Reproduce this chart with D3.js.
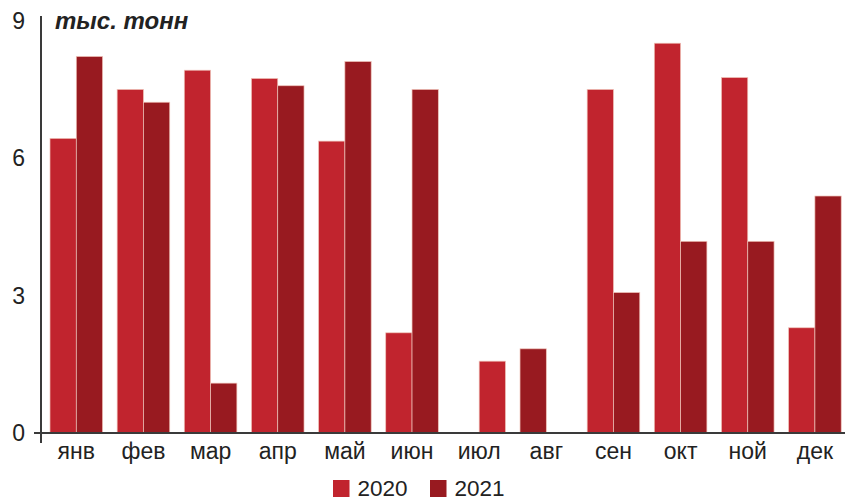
<!DOCTYPE html>
<html>
<head>
<meta charset="utf-8">
<script src="https://cdn.jsdelivr.net/npm/d3@7/dist/d3.min.js"></script>
<style>
  html, body { margin: 0; padding: 0; background: #fff; }
  svg { display: block; font-family: "Liberation Sans", Arial, sans-serif; }
</style>
</head>
<body>
<svg id="chart" width="845" height="500"></svg>
<script>
// Monthly volumes, thousand tonnes
const months = ["янв", "фев", "мар", "апр", "май", "июн", "июл", "авг", "сен", "окт", "ной", "дек"];
const years = ["2020", "2021"];
const values2020 = [6.44, 7.51, 7.93, 7.75, 6.38, 2.19, 1.57, null, 7.51, 8.52, 7.77, 2.30];
const values2021 = [8.23, 7.23, 1.09, 7.59, 8.12, 7.51, null, 1.84, 3.07, 4.19, 4.19, 5.18];
const yTicks = [0, 3, 6, 9];
const unitLabel = "тыс. тонн";

const colors = { "2020": "#c1242e", "2021": "#981a20" };

const svg = d3.select("#chart");
const axisX = 41;

const x = d3.scaleBand()
  .domain(months)
  .range([axisX, 850.2])
  .paddingInner(0.2167)
  .paddingOuter(0.134);

const sub = d3.scaleBand()
  .domain(years)
  .range([0, x.bandwidth()]);

const y = d3.scaleLinear()
  .domain([0, 9])
  .range([433, 21.25]);

// Flatten series into bars; a month with a single value places it in its partner's slot
const series = { "2020": values2020, "2021": values2021 };
const bars = [];
months.forEach((m, i) => {
  const a = values2020[i], b = values2021[i];
  years.forEach(yr => {
    const v = series[yr][i];
    if (v == null) return;
    let slot = yr;
    if (a == null || b == null) slot = yr === "2020" ? "2021" : "2020";
    bars.push({ month: m, year: yr, value: v, slot });
  });
});

svg.append("g")
  .selectAll("rect")
  .data(bars)
  .join("rect")
  .attr("x", d => x(d.month) + sub(d.slot))
  .attr("y", d => y(d.value))
  .attr("width", sub.bandwidth())
  .attr("height", d => y(0) - y(d.value))
  .attr("fill", d => colors[d.year])
  .attr("stroke", "#efc2b8")
  .attr("stroke-width", 0.7);

// Y axis labels
const yAxis = svg.append("g")
  .attr("transform", `translate(${axisX},0)`)
  .call(d3.axisLeft(y).tickValues(yTicks).tickSize(0).tickPadding(16));
yAxis.select(".domain").remove();
yAxis.selectAll("text")
  .attr("font-size", 23)
  .attr("fill", "#222")
  .attr("font-family", "Liberation Sans, Arial, sans-serif");

// X axis labels
const xAxis = svg.append("g")
  .attr("transform", `translate(0,${y(0)})`)
  .call(d3.axisBottom(x).tickSize(0).tickPadding(10));
xAxis.select(".domain").remove();
xAxis.selectAll("text")
  .attr("font-size", 23)
  .attr("fill", "#222")
  .attr("font-family", "Liberation Sans, Arial, sans-serif");

// Axis lines
svg.append("line")
  .attr("x1", axisX).attr("x2", axisX)
  .attr("y1", 16).attr("y2", 443)
  .attr("stroke", "#3a3a3a").attr("stroke-width", 2);
svg.append("line")
  .attr("x1", 34).attr("x2", 845)
  .attr("y1", y(0)).attr("y2", y(0))
  .attr("stroke", "#3a3a3a").attr("stroke-width", 2);

// Unit label
svg.append("text")
  .attr("x", 55).attr("y", 29)
  .attr("font-size", 24)
  .attr("font-weight", "bold")
  .attr("font-style", "italic")
  .attr("fill", "#222")
  .text(unitLabel);

// Legend
const legend = svg.append("g");
const legendX = [333, 430];
years.forEach((yr, i) => {
  const g = legend.append("g").attr("transform", `translate(${legendX[i]},480)`);
  g.append("rect").attr("width", 16.5).attr("height", 17).attr("fill", colors[yr]);
  g.append("text")
    .attr("x", 24.5).attr("y", 15.5)
    .attr("font-size", 22.5)
    .attr("fill", "#222")
    .text(yr);
});
</script>
</body>
</html>
